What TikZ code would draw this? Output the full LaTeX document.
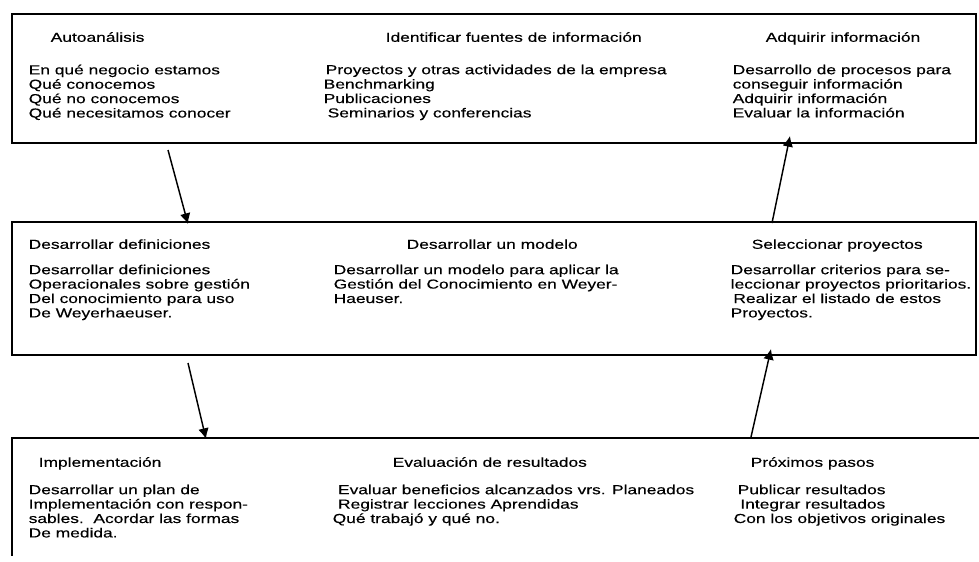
\documentclass[tikz,border=0pt]{standalone}
\usepackage{fontspec}
\setmainfont[FakeStretch=1.33,FakeBold=0.3]{Liberation Sans}
\usetikzlibrary{arrows.meta,positioning}

\tikzset{
  panel/.style={draw,-,line width=1pt},
  block/.style={anchor=north west,align=left,inner sep=0pt,
                execute at begin node=\strut},
}

\begin{document}
\begin{tikzpicture}[x=0.75pt,y=-0.75pt,->,>={Latex[length=8pt,width=8pt]},
                    line width=1.1pt,font=\fontsize{9.8}{10.8}\selectfont]
\useasboundingbox (0,0) rectangle (979,561);

% las tres filas
\draw[panel] (12,14)  rectangle (976,143);
\draw[panel] (12,222) rectangle (976,355);
\draw[panel] (979,438) -- (12,438) -- (12,556);

% fila 1
\node[block] (autoT)  at (50,31)   {Autoanálisis};
\node[block] (autoL)  at (28,64)   {En qué negocio estamos\\Qué conocemos\\Qué no conocemos\\Qué necesitamos conocer};
\node[block] (fuenT)  at (385,31)  {Identificar fuentes de información};
\node[block] (fuenL)  at (323,64)  {\hspace*{1.5pt}Proyectos y otras actividades de la empresa\\Benchmarking\\Publicaciones\\\hspace*{3pt}Seminarios y conferencias};
\node[block] (adqT)   at (765,31)  {Adquirir información};
\node[block] (adqL)   at (732,64)  {Desarrollo de procesos para\\conseguir información\\Adquirir información\\Evaluar la información};

% fila 2
\node[block] (defT)   at (28,238)  {Desarrollar definiciones};
\node[block] (defL)   at (28,264)  {Desarrollar definiciones\\Operacionales sobre gestión\\Del conocimiento para uso\\De Weyerhaeuser.};
\node[block] (modT)   at (406,238) {Desarrollar un modelo};
\node[block] (modL)   at (333,264) {Desarrollar un modelo para aplicar la\\Gestión del Conocimiento en Weyer-\\Haeuser.};
\node[block] (selT)   at (751,238) {Seleccionar proyectos};
\node[block] (selL)   at (730,264) {Desarrollar criterios para se-\\leccionar proyectos prioritarios.\\\hspace*{2pt}Realizar el listado de estos\\Proyectos.};

% fila 3
\node[block] (implT)  at (38,456)  {Implementación};
\node[block] (implL)  at (28,484)  {Desarrollar un plan de\\Implementación con respon-\\sables.\ \ Acordar las formas\\De medida.};
\node[block] (evalT)  at (392,456) {Evaluación de resultados};
\node[block] (evalL)  at (332,484) {\hspace*{4pt}Evaluar beneficios alcanzados vrs. Planeados\\\hspace*{4pt}Registrar lecciones Aprendidas\\Qué trabajó y qué no.};
\node[block] (proxT)  at (750,456) {Próximos pasos};
\node[block] (proxL)  at (733,484) {\hspace*{3pt}Publicar resultados\\\hspace*{5pt}Integrar resultados\\Con los objetivos originales};

% flechas
\coordinate (bajaA)  at (168,150);
\coordinate (bajaB)  at (188,224);
\coordinate (bajaC)  at (188,363);
\coordinate (bajaD)  at (206,439);
\coordinate (subeA)  at (751,437);
\coordinate (subeB)  at (771,349);
\coordinate (subeC)  at (772,223);
\coordinate (subeD)  at (790,136);
\path (bajaA) edge (bajaB)
      (bajaC) edge (bajaD)
      (subeA) edge (subeB)
      (subeC) edge (subeD);
\end{tikzpicture}
\end{document}
